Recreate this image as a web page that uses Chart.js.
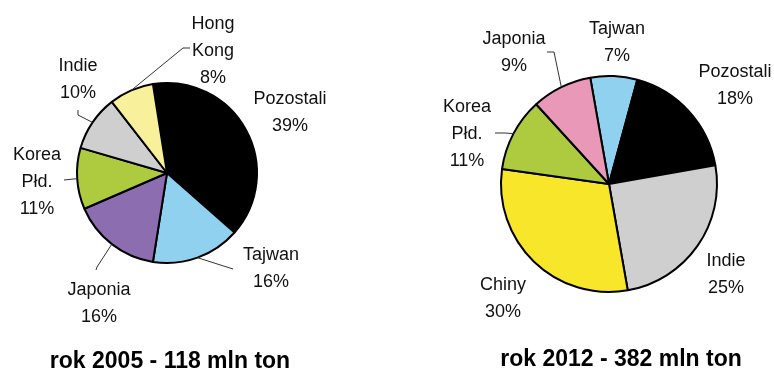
<!DOCTYPE html>
<html>
<head>
<meta charset="utf-8">
<script src="https://cdn.jsdelivr.net/npm/chart.js@4/dist/chart.umd.min.js"></script>
<style>
  html, body { margin: 0; padding: 0; background: #fff; }
  #wrap { position: relative; width: 774px; height: 372px; }
  .box { position: absolute; top: 0; width: 387px; height: 372px; }
</style>
</head>
<body>
<div id="wrap">
  <div class="box" style="left:0"><canvas id="wykres2005"></canvas></div>
  <div class="box" style="left:387px"><canvas id="wykres2012"></canvas></div>
</div>
<script>
// dane 2005
var kraje2005 = ['Pozostali', 'Tajwan', 'Japonia', 'Korea Płd.', 'Indie', 'Hong Kong'];
var udzialy2005 = [39, 16, 16, 11, 10, 8];
var tytul2005 = 'rok 2005 - 118 mln ton';

// dane 2012
var kraje2012 = ['Tajwan', 'Pozostali', 'Indie', 'Chiny', 'Korea Płd.', 'Japonia'];
var udzialy2012 = [7, 18, 25, 30, 11, 9];
var tytul2012 = 'rok 2012 - 382 mln ton';

var kolory = {
  'Pozostali': '#000000',
  'Tajwan': '#8fd1ef',
  'Japonia2005': '#8b6db0',
  'Japonia2012': '#ea98b7',
  'Korea Płd.': '#aecb3f',
  'Indie': '#cfcfcf',
  'Hong Kong': '#f9f09c',
  'Chiny': '#f7e629'
};

var FONT = '"Liberation Sans", Arial, sans-serif';

// label layout (relative to pie center): text lines, text position, leader polyline
var etykiety2005 = [
  { linie: ['Pozostali', '39%'], x: 123, y: -74 },
  { linie: ['Tajwan', '16%'], x: 104, y: 82, linia: [[66, 96]] },
  { linie: ['Japonia', '16%'], x: -68, y: 117, linia: [[-70, 94], [-71, 97]] },
  { linie: ['Korea', 'Płd.', '11%'], x: -130, y: -18, linia: [[-103, 7]] },
  { linie: ['Indie', '10%'], x: -89, y: -107, linia: [[-89, -58], [-89, -63]] },
  { linie: ['Hong', 'Kong', '8%'], x: 46, y: -149, linia: [[16, -125], [23, -125]] }
];
var etykiety2012 = [
  { linie: ['Tajwan', '7%'], x: 8, y: -155 },
  { linie: ['Pozostali', '18%'], x: 126, y: -112 },
  { linie: ['Indie', '25%'], x: 117, y: 77 },
  { linie: ['Chiny', '30%'], x: -106, y: 101 },
  { linie: ['Korea', 'Płd.', '11%'], x: -142, y: -77, linia: [[-104, -51], [-114, -51]] },
  { linie: ['Japonia', '9%'], x: -95, y: -145, linia: [[-55, -132], [-62, -132]] }
];

var pluginEtykiety = {
  id: 'etykiety',
  afterDraw: function(chart, args, opts) {
    var ctx = chart.ctx;
    var arcs = chart.getDatasetMeta(0).data;
    ctx.save();
    ctx.fillStyle = '#111';
    ctx.strokeStyle = '#333';
    ctx.lineWidth = 1;
    ctx.font = '18px ' + FONT;
    ctx.textAlign = 'center';
    ctx.textBaseline = 'middle';
    opts.lista.forEach(function(et, i) {
      var a = arcs[i];
      var cx = a.x, cy = a.y;
      if (et.linia) {
        var mid = (a.startAngle + a.endAngle) / 2;
        ctx.beginPath();
        ctx.moveTo(cx + Math.cos(mid) * a.outerRadius, cy + Math.sin(mid) * a.outerRadius);
        et.linia.forEach(function(p) { ctx.lineTo(cx + p[0], cy + p[1]); });
        ctx.stroke();
      }
      et.linie.forEach(function(t, k) {
        ctx.fillText(t, cx + et.x, cy + et.y + k * 27);
      });
    });
    ctx.font = 'bold 23px ' + FONT;
    ctx.fillStyle = '#000';
    ctx.fillText(opts.tytul, opts.tx, opts.ty);
    ctx.restore();
  }
};

function rysujKolo(id, kraje, udzialy, etykiety, tytul, rok, obrot, pad, tx, ty) {
  var ctx = document.getElementById(id).getContext('2d');
  return new Chart(ctx, {
    type: 'pie',
    data: {
      labels: kraje,
      datasets: [{
        data: udzialy,
        backgroundColor: kraje.map(function(k) {
          return kolory[k + rok] || kolory[k];
        }),
        borderColor: '#000',
        borderWidth: 2
      }]
    },
    options: {
      responsive: true,
      maintainAspectRatio: false,
      animation: false,
      rotation: obrot,
      layout: { padding: pad },
      plugins: {
        legend: { display: false },
        tooltip: { enabled: false },
        etykiety: { lista: etykiety, tytul: tytul, tx: tx, ty: ty }
      }
    },
    plugins: [pluginEtykiety]
  });
}

rysujKolo('wykres2005', kraje2005, udzialy2005, etykiety2005, tytul2005, '2005', -9,
  { left: 76, right: 129, top: 82, bottom: 108 }, 170, 362);
rysujKolo('wykres2012', kraje2012, udzialy2012, etykiety2012, tytul2012, '2012', -10,
  { left: 113, right: 56, top: 75, bottom: 79 }, 234, 360);
</script>
</body>
</html>
